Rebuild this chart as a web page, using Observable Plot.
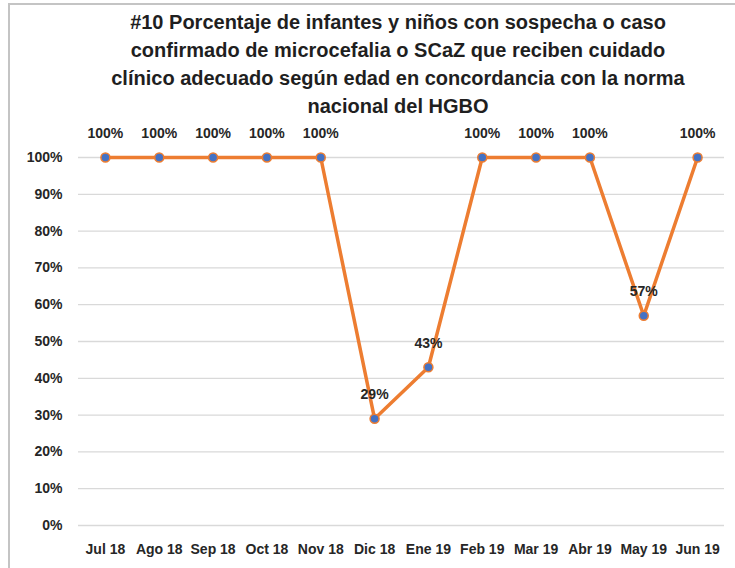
<!DOCTYPE html>
<html>
<head>
<meta charset="utf-8">
<script src="https://cdn.jsdelivr.net/npm/d3@7"></script>
<script src="https://cdn.jsdelivr.net/npm/@observablehq/plot@0.6"></script>
<style>
  html, body { margin: 0; padding: 0; background: #fff; }
  body { width: 735px; height: 568px; position: relative; overflow: hidden; font-family: "Liberation Sans", Arial, sans-serif; }
  #frame { position: absolute; left: 8px; top: 3px; width: 727px; height: 565px; border-top: 2px solid #c4c4c4; border-left: 2px solid #c4c4c4; box-sizing: border-box; }
  #title { position: absolute; top: 8px; left: 61px; width: 674px; text-align: center; font-weight: bold; font-size: 20px; line-height: 28px; color: #1f1f1f; }
  #chart { position: absolute; top: 120px; left: 0; }
</style>
</head>
<body>
<div id="frame"></div>
<div id="title">#10 Porcentaje de infantes y niños con sospecha o caso<br>confirmado de microcefalia o SCaZ que reciben cuidado<br>clínico adecuado según edad en concordancia con la norma<br>nacional del HGBO</div>
<div id="chart"></div>
<script>
const months = ["Jul 18", "Ago 18", "Sep 18", "Oct 18", "Nov 18", "Dic 18", "Ene 19", "Feb 19", "Mar 19", "Abr 19", "May 19", "Jun 19"];
const values = [100, 100, 100, 100, 100, 29, 43, 100, 100, 100, 57, 100];
const yTicks = [0, 10, 20, 30, 40, 50, 60, 70, 80, 90, 100];

const data = months.map((m, i) => ({month: m, value: values[i]}));

const chart = Plot.plot({
  width: 735,
  height: 448,
  marginTop: 37,
  marginBottom: 43,
  marginLeft: 78,
  marginRight: 11,
  style: {background: "transparent", fontFamily: "'Liberation Sans', Arial, sans-serif", color: "#262626"},
  x: {type: "point", domain: months, padding: 0.5, round: false},
  y: {domain: [0, 100]},
  marks: [
    Plot.gridY(yTicks, {stroke: "#d9d9d9", strokeOpacity: 1, strokeWidth: 1.3}),
    Plot.axisY(yTicks, {tickFormat: d => d + "%", tickSize: 0, tickPadding: 16, fontSize: 14, fontWeight: "bold", label: null, fill: "#262626"}),
    Plot.axisX({tickSize: 0, tickPadding: 19, fontSize: 14, fontWeight: "bold", label: null, fill: "#262626"}),
    Plot.line(data, {x: "month", y: "value", stroke: "#ED7D31", strokeWidth: 3.5}),
    Plot.dot(data, {x: "month", y: "value", r: 4.5, fill: "#4472C4", stroke: "#ED7D31", strokeWidth: 1.5}),
    Plot.text(data, {x: "month", y: "value", text: d => d.value + "%", dy: -24, fontSize: 14, fontWeight: "bold", fill: "#262626"})
  ]
});
document.getElementById("chart").appendChild(chart);
</script>
</body>
</html>
